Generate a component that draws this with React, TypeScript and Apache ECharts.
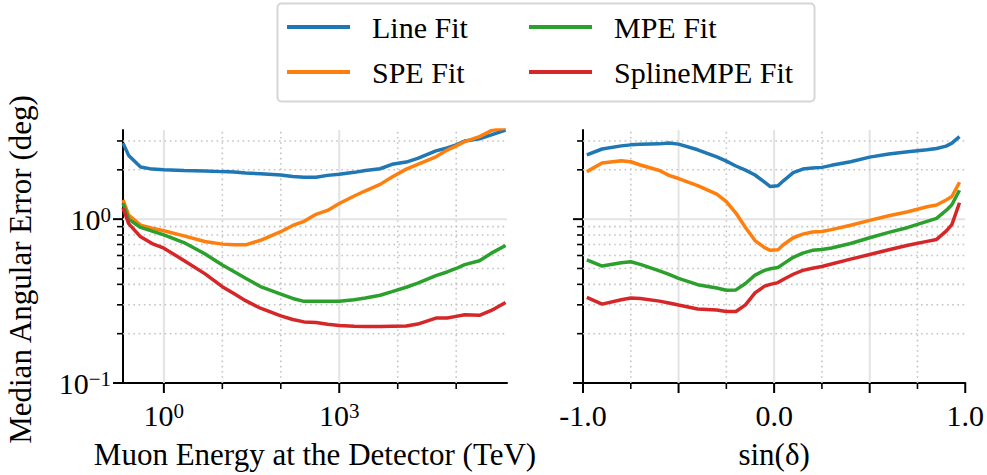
import React, { useEffect, useRef } from "react";
import * as echarts from "echarts";

// ---- Left panel: median angular error vs muon energy (TeV) ----
const energyTeV = [0.2, 0.25, 0.4, 0.63, 1, 2.2, 5, 10, 16, 25, 45, 100, 160, 250, 400, 630, 1000, 1800, 2800, 5000, 8000, 14000, 22000, 45000, 70000, 100000, 140000, 250000, 400000, 700000];
const lineFitE = [2.91, 2.45, 2.08, 2.02, 2.0, 1.98, 1.97, 1.95, 1.94, 1.91, 1.89, 1.86, 1.82, 1.8, 1.8, 1.85, 1.88, 1.93, 1.98, 2.03, 2.16, 2.23, 2.35, 2.61, 2.72, 2.84, 3.0, 3.09, 3.27, 3.5];
const speFitE = [1.31, 1.06, 0.92, 0.88, 0.85, 0.79, 0.73, 0.704, 0.697, 0.697, 0.743, 0.838, 0.915, 0.97, 1.07, 1.13, 1.246, 1.385, 1.49, 1.63, 1.81, 2.02, 2.16, 2.4, 2.64, 2.8, 2.97, 3.19, 3.47, 3.6];
const mpeFitE = [1.25, 1.0, 0.89, 0.845, 0.802, 0.72, 0.615, 0.525, 0.478, 0.436, 0.388, 0.349, 0.328, 0.315, 0.315, 0.315, 0.315, 0.322, 0.33, 0.343, 0.361, 0.384, 0.407, 0.452, 0.476, 0.5, 0.528, 0.557, 0.62, 0.69];
const splineFitE = [1.17, 0.94, 0.78, 0.71, 0.665, 0.56, 0.465, 0.387, 0.35, 0.318, 0.286, 0.257, 0.244, 0.236, 0.234, 0.228, 0.224, 0.222, 0.221, 0.221, 0.222, 0.223, 0.229, 0.249, 0.249, 0.255, 0.261, 0.259, 0.277, 0.31];

// ---- Right panel: median angular error vs sin(declination) ----
const sinDelta = [-0.98, -0.9, -0.8, -0.75, -0.7, -0.6, -0.55, -0.5, -0.4, -0.3, -0.25, -0.2, -0.15, -0.1, -0.05, -0.02, 0.02, 0.05, 0.1, 0.15, 0.2, 0.25, 0.3, 0.4, 0.5, 0.6, 0.7, 0.8, 0.85, 0.9, 0.93, 0.97];
const lineFitS = [2.47, 2.68, 2.8, 2.84, 2.86, 2.88, 2.92, 2.87, 2.65, 2.4, 2.26, 2.11, 1.99, 1.86, 1.68, 1.58, 1.6, 1.72, 1.92, 2.02, 2.05, 2.07, 2.13, 2.24, 2.39, 2.5, 2.58, 2.655, 2.7, 2.79, 2.91, 3.19];
const speFitS = [1.95, 2.2, 2.27, 2.24, 2.14, 1.98, 1.85, 1.77, 1.6, 1.42, 1.28, 1.09, 0.89, 0.74, 0.67, 0.645, 0.65, 0.7, 0.77, 0.81, 0.835, 0.841, 0.863, 0.918, 0.983, 1.048, 1.11, 1.19, 1.22, 1.31, 1.375, 1.68];
const mpeFitS = [0.565, 0.517, 0.542, 0.55, 0.53, 0.484, 0.46, 0.435, 0.398, 0.38, 0.368, 0.37, 0.405, 0.455, 0.487, 0.498, 0.507, 0.535, 0.585, 0.62, 0.645, 0.653, 0.666, 0.71, 0.77, 0.83, 0.89, 0.97, 1.01, 1.13, 1.225, 1.5];
const splineFitS = [0.333, 0.303, 0.322, 0.33, 0.328, 0.316, 0.308, 0.299, 0.283, 0.279, 0.273, 0.273, 0.3, 0.355, 0.39, 0.4, 0.41, 0.43, 0.461, 0.487, 0.502, 0.514, 0.532, 0.57, 0.608, 0.65, 0.693, 0.732, 0.752, 0.845, 0.925, 1.26];

const seriesNames = ["Line Fit", "SPE Fit", "MPE Fit", "SplineMPE Fit"];
const seriesColors = ["#1f77b4", "#ff7f0e", "#2ca02c", "#d62728"];

// axis ranges and ticks
const energyRange = [0.2, 740000];
const sinRange = [-1, 1];
const errRange = [0.1, 3.5];
const energyMajorTicks = [1, 1000];
const energyMinorTicks = [10, 100, 10000, 100000];
const sinMajorTicks = [-1, -0.5, 0, 0.5, 1];
const sinMinorTicks = [-0.75, -0.25, 0.25, 0.75];
const errMajorTicks = [0.1, 1];
const errMinorTicks = [0.2, 0.3, 0.4, 0.5, 0.6, 0.7, 0.8, 0.9, 2, 3];
const sinMajorGrid = [-0.5, 0, 0.5];

const FONT = "'Liberation Serif', 'Times New Roman', serif";

function pow10Label(v: number, allowed?: number[]) {
  const l = Math.log10(v);
  const e = Math.round(l);
  if (Math.abs(l - e) > 1e-6) return "";
  if (allowed && allowed.indexOf(e) < 0) return "";
  const exp = e < 0 ? "\u2212" + -e : String(e);
  return `{b|10}{s|${exp}}`;
}

const powRich = {
  b: { fontSize: 30, lineHeight: 30, fontFamily: FONT, color: "#000" },
  s: { fontSize: 21, lineHeight: 16, fontFamily: FONT, color: "#000", verticalAlign: "top" },
};

function gridSeries(xAxisIndex: number, yAxisIndex: number, xr: number[], yr: number[], xMajor: number[], xMinor: number[]) {
  const xMid = xr[0] < 0 ? 0 : 1;
  const data: number[][] = [];
  xMajor.forEach((v) => data.push([v, 1, 0, 0]));
  xMinor.forEach((v) => data.push([v, 1, 0, 1]));
  data.push([xMid, 1, 1, 0]);
  errMinorTicks.forEach((v) => data.push([xMid, v, 1, 1]));
  return {
    type: "custom",
    xAxisIndex,
    yAxisIndex,
    silent: true,
    z: 1,
    data,
    renderItem: (_p: any, api: any) => {
      const orient = api.value(2);
      const dotted = api.value(3) === 1;
      let p1, p2;
      if (orient === 0) {
        p1 = api.coord([api.value(0), yr[0]]);
        p2 = api.coord([api.value(0), yr[1]]);
      } else {
        p1 = api.coord([xr[0], api.value(1)]);
        p2 = api.coord([xr[1], api.value(1)]);
      }
      return {
        type: "line",
        shape: { x1: p1[0], y1: p1[1], x2: p2[0], y2: p2[1] },
        style: dotted
          ? { stroke: "#c4c4c4", lineWidth: 1.6, lineDash: [1.6, 3.6] }
          : { stroke: "#e3e3e3", lineWidth: 2 },
      };
    },
  };
}

function tickSeries(xAxisIndex: number, yAxisIndex: number, xr: number[], yr: number[], xMajor: number[], xMinor: number[]) {
  const data: number[][] = [];
  xMajor.forEach((v) => data.push([v, yr[0], 0, 1]));
  xMinor.forEach((v) => data.push([v, yr[0], 0, 0]));
  errMajorTicks.forEach((v) => data.push([xr[0], v, 1, 1]));
  errMinorTicks.forEach((v) => data.push([xr[0], v, 1, 0]));
  return {
    type: "custom",
    xAxisIndex,
    yAxisIndex,
    silent: true,
    clip: false,
    z: 6,
    data,
    renderItem: (_p: any, api: any) => {
      const p = api.coord([api.value(0), api.value(1)]);
      const major = api.value(3) === 1;
      const len = major ? 10 : 6;
      const shape =
        api.value(2) === 0
          ? { x1: p[0], y1: p[1], x2: p[0], y2: p[1] + len }
          : { x1: p[0] - len, y1: p[1], x2: p[0], y2: p[1] };
      return {
        type: "line",
        shape,
        style: { stroke: "#000", lineWidth: major ? 2 : 1.6 },
      };
    },
  };
}

function lineSeries(name: string, color: string, xs: number[], ys: number[], axisIndex: number) {
  return {
    type: "line",
    name,
    xAxisIndex: axisIndex,
    yAxisIndex: axisIndex,
    data: xs.map((x, i) => [x, ys[i]]),
    showSymbol: false,
    symbol: "none",
    clip: true,
    z: 4,
    lineStyle: { color, width: 3.5 },
    itemStyle: { color },
    emphasis: { disabled: true },
  };
}

const axisLineStyle = { show: true, onZero: false, lineStyle: { color: "#000", width: 2 } };
const nameStyle = { fontSize: 31, lineHeight: 31, fontFamily: FONT, color: "#000" };

function legendBlock(names: string[], left: number) {
  return {
    data: names,
    orient: "vertical",
    left,
    top: 12,
    padding: 0,
    itemWidth: 63,
    itemHeight: 4,
    itemGap: 15,
    icon: "rect",
    z: 10,
    selectedMode: false,
    formatter: (n: string) => `{g|}{t|${n}}`,
    textStyle: {
      rich: {
        g: { width: 17 },
        t: { fontSize: 30, lineHeight: 30, fontFamily: FONT, color: "#000" },
      },
    },
  };
}

export default function App() {
  const ref = useRef<HTMLDivElement>(null);
  useEffect(() => {
    if (!ref.current) return;
    const chart = echarts.init(ref.current, undefined, { renderer: "svg" });
    const fitsE = [lineFitE, speFitE, mpeFitE, splineFitE];
    const fitsS = [lineFitS, speFitS, mpeFitS, splineFitS];
    const option: any = {
      animation: false,
      backgroundColor: "#fff",
      textStyle: { fontFamily: FONT, color: "#000" },
      graphic: [
        {
          type: "rect",
          z: 0,
          silent: true,
          shape: { x: 277.5, y: 3.5, width: 537, height: 98, r: 4 },
          style: { fill: "#fff", stroke: "#d6d6d6", lineWidth: 2 },
        },
      ],
      legend: [legendBlock([seriesNames[0], seriesNames[1]], 287), legendBlock([seriesNames[2], seriesNames[3]], 529)],
      grid: [
        { left: 123, top: 130, width: 384, height: 254 },
        { left: 583, top: 130, width: 384, height: 254 },
      ],
      xAxis: [
        {
          type: "log",
          logBase: 10,
          gridIndex: 0,
          min: energyRange[0],
          max: energyRange[1],
          axisLine: axisLineStyle,
          axisTick: { show: false },
          splitLine: { show: false },
          axisLabel: {
            margin: 17,
            formatter: (v: number) => pow10Label(v, [0, 3]),
            rich: powRich,
          },
          name: "Muon Energy at the Detector (TeV)",
          nameLocation: "middle",
          nameGap: 56,
          nameTextStyle: nameStyle,
        },
        {
          type: "value",
          gridIndex: 1,
          min: sinRange[0],
          max: sinRange[1],
          interval: 0.5,
          axisLine: axisLineStyle,
          axisTick: { show: false },
          splitLine: { show: false },
          axisLabel: {
            margin: 17,
            fontSize: 30,
            lineHeight: 30,
            fontFamily: FONT,
            color: "#000",
            formatter: (v: number) => (Math.abs(v - Math.round(v)) < 1e-9 ? v.toFixed(1) : ""),
          },
          name: "sin(\u03b4)",
          nameLocation: "middle",
          nameGap: 56,
          nameTextStyle: nameStyle,
        },
      ],
      yAxis: [
        {
          type: "log",
          logBase: 10,
          gridIndex: 0,
          min: errRange[0],
          max: errRange[1],
          axisLine: axisLineStyle,
          axisTick: { show: false },
          splitLine: { show: false },
          axisLabel: {
            margin: 12,
            formatter: (v: number) => pow10Label(v),
            rich: powRich,
          },
          name: "Median Angular Error (deg)",
          nameLocation: "middle",
          nameGap: 87,
          nameTextStyle: { ...nameStyle, padding: [0, 26, 0, 0] },
        },
        {
          type: "log",
          logBase: 10,
          gridIndex: 1,
          min: errRange[0],
          max: errRange[1],
          axisLine: axisLineStyle,
          axisTick: { show: false },
          splitLine: { show: false },
          axisLabel: { show: false },
        },
      ],
      series: [
        gridSeries(0, 0, energyRange, errRange, energyMajorTicks, energyMinorTicks),
        gridSeries(1, 1, sinRange, errRange, sinMajorGrid, sinMinorTicks),
        ...seriesNames.map((n, i) => lineSeries(n, seriesColors[i], energyTeV, fitsE[i], 0)),
        ...seriesNames.map((n, i) => lineSeries(n, seriesColors[i], sinDelta, fitsS[i], 1)),
        tickSeries(0, 0, energyRange, errRange, energyMajorTicks, energyMinorTicks),
        tickSeries(1, 1, sinRange, errRange, sinMajorTicks, sinMinorTicks),
      ],
    };
    chart.setOption(option);
    return () => chart.dispose();
  }, []);
  return <div ref={ref} style={{ position: "absolute", left: 0, top: 0, width: 987, height: 475 }} />;
}
